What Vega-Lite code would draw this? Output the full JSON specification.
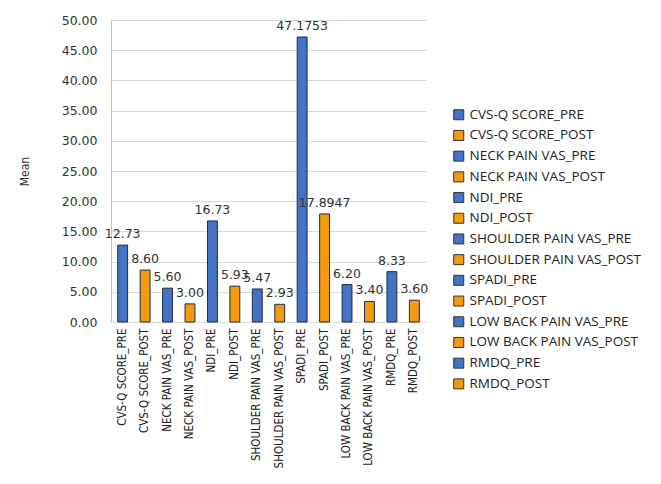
{
  "$schema": "https://vega.github.io/schema/vega-lite/v6.json",
  "width": 315,
  "height": 302,
  "padding": {"left": 18, "top": 14, "right": 5, "bottom": 5},
  "background": "white",
  "config": {
    "view": {"stroke": null},
    "font": "DejaVu Sans"
  },
  "data": {
    "values": [
      {"measure": "CVS-Q SCORE_PRE", "mean": 12.73, "label": "12.73"},
      {"measure": "CVS-Q SCORE_POST", "mean": 8.6, "label": "8.60"},
      {"measure": "NECK PAIN VAS_PRE", "mean": 5.6, "label": "5.60"},
      {"measure": "NECK PAIN VAS_POST", "mean": 3.0, "label": "3.00"},
      {"measure": "NDI_PRE", "mean": 16.73, "label": "16.73"},
      {"measure": "NDI_POST", "mean": 5.93, "label": "5.93"},
      {"measure": "SHOULDER PAIN VAS_PRE", "mean": 5.47, "label": "5.47"},
      {"measure": "SHOULDER PAIN VAS_POST", "mean": 2.93, "label": "2.93"},
      {"measure": "SPADI_PRE", "mean": 47.1753, "label": "47.1753"},
      {"measure": "SPADI_POST", "mean": 17.8947, "label": "17.8947"},
      {"measure": "LOW BACK PAIN VAS_PRE", "mean": 6.2, "label": "6.20"},
      {"measure": "LOW BACK PAIN VAS_POST", "mean": 3.4, "label": "3.40"},
      {"measure": "RMDQ_PRE", "mean": 8.33, "label": "8.33"},
      {"measure": "RMDQ_POST", "mean": 3.6, "label": "3.60"}
    ]
  },
  "encoding": {
    "x": {
      "field": "measure",
      "type": "nominal",
      "sort": null,
      "scale": {"paddingInner": 0.56, "paddingOuter": 0.3},
      "axis": {
        "title": null,
        "labelAngle": -90,
        "labelFont": "DejaVu Sans Condensed",
        "labelFontSize": 11.5,
        "labelColor": "#222222",
        "labelPadding": 6,
        "ticks": false,
        "domain": false,
        "labelLimit": 200
      }
    },
    "y": {
      "field": "mean",
      "type": "quantitative",
      "scale": {"domain": [0, 50]},
      "axis": {
        "title": "Mean",
        "titleFont": "DejaVu Sans Condensed",
        "titleFontSize": 12,
        "titleFontWeight": "normal",
        "titleColor": "#333333",
        "titlePadding": 30,
        "format": ".2f",
        "values": [0, 5, 10, 15, 20, 25, 30, 35, 40, 45, 50],
        "labelOverlap": false,
        "labelFontSize": 12.5,
        "labelColor": "#333333",
        "labelPadding": 14,
        "ticks": false,
        "domainColor": "#bfbfbf",
        "gridColor": "#d9d9d9"
      }
    }
  },
  "layer": [
    {
      "mark": {"type": "bar", "stroke": "#1f2a44", "strokeWidth": 1},
      "encoding": {
        "color": {
          "field": "measure",
          "type": "nominal",
          "sort": null,
          "scale": {
            "domain": [
              "CVS-Q SCORE_PRE", "CVS-Q SCORE_POST",
              "NECK PAIN VAS_PRE", "NECK PAIN VAS_POST",
              "NDI_PRE", "NDI_POST",
              "SHOULDER PAIN VAS_PRE", "SHOULDER PAIN VAS_POST",
              "SPADI_PRE", "SPADI_POST",
              "LOW BACK PAIN VAS_PRE", "LOW BACK PAIN VAS_POST",
              "RMDQ_PRE", "RMDQ_POST"
            ],
            "range": [
              "#4472c4", "#f59a0c", "#4472c4", "#f59a0c", "#4472c4", "#f59a0c",
              "#4472c4", "#f59a0c", "#4472c4", "#f59a0c", "#4472c4", "#f59a0c",
              "#4472c4", "#f59a0c"
            ]
          },
          "legend": {
            "title": null,
            "orient": "none",
            "legendX": 341,
            "legendY": 88,
            "symbolType": "square",
            "symbolSize": 100,
            "symbolStrokeColor": "#333333",
            "symbolStrokeWidth": 1,
            "labelFont": "Open Sans",
            "labelFontSize": 13.5,
            "labelColor": "#222222",
            "labelLimit": 400,
            "rowPadding": 5.7,
            "labelOffset": 4
          }
        }
      }
    },
    {
      "mark": {"type": "text", "baseline": "bottom", "dy": -4, "fontSize": 12.5, "color": "#333333"},
      "encoding": {"text": {"field": "label"}}
    }
  ]
}
